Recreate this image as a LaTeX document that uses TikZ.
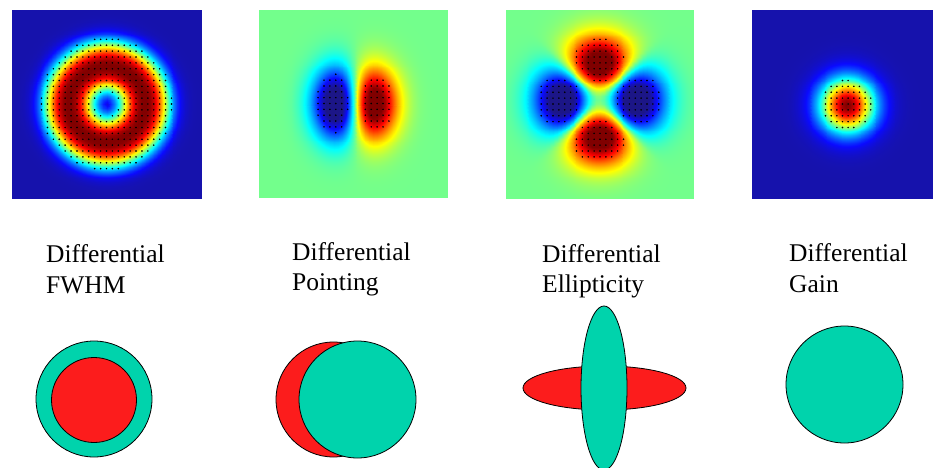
\documentclass[tikz,border=0pt]{standalone}
\usepackage{fontspec}
\setmainfont{Liberation Serif}
\usepackage{pgfplots}
\pgfplotsset{compat=1.18}
\definecolor{beamteal}{RGB}{0,211,172}
\definecolor{beamred}{RGB}{252,28,28}
\pgfplotsset{
  colormap={beamjet}{rgb255(0pt)=(28,22,135); rgb255(1pt)=(10,10,255);
    rgb255(3pt)=(0,255,255); rgb255(5pt)=(255,255,0); rgb255(7pt)=(255,0,0);
    rgb255(8pt)=(128,0,0)},
}
\tikzset{
  shapeline/.style={draw=black, line width=0.8pt},
  lbl/.style={anchor=base west, inner sep=0pt, font=\fontsize{25.5}{31}\selectfont},
}
\pgfplotsset{
  beammap/.style={hide axis, view={0}{90}, scale only axis, enlargelimits=false,
    colormap name=beamjet, anchor=south west},
  beamsurf/.style={surf, shader=interp, samples=49},
  beamdots/.style={only marks, mark=*, mark size=0.55pt, black, samples=33},
}
\begin{document}
\begin{tikzpicture}
\useasboundingbox (0pt,0pt) rectangle (935pt,-468pt);

% --- Differential FWHM map
\begin{axis}[beammap, at={(12pt,-198pt)}, width=189pt, height=188pt,
  xmin=-94.5, xmax=94.5, ymin=-94, ymax=94, point meta min=-0.04, point meta max=1]
\addplot3[beamsurf, domain=-94.5:94.5, y domain=-94:94]
  {exp(-(abs(sqrt(x^2+y^2)-38)/25)^2.5)};
\addplot3[beamdots, domain=-94.5:94.5, y domain=-94:94, restrict z to domain=12:66]
  {sqrt(x^2+y^2)};
\end{axis}

% --- Differential Pointing map
\begin{axis}[beammap, at={(259pt,-197pt)}, width=189pt, height=187pt,
  xmin=-94.5, xmax=94.5, ymin=-93.5, ymax=93.5, point meta min=-0.8, point meta max=0.84]
\addplot3[beamsurf, domain=-94.5:94.5, y domain=-93.5:93.5]
  {(x-1)/20*exp(0.5-(x-1)^2/800-y^2/1250)};
\addplot3[beamdots, domain=-94.5:94.5, y domain=-93.5:93.5, restrict z to domain=0.5:2]
  {abs((x-1)/20*exp(0.5-(x-1)^2/800-y^2/1250))};
\end{axis}

% --- Differential Ellipticity map
\begin{axis}[beammap, at={(506pt,-198pt)}, width=188pt, height=188pt,
  xmin=-94, xmax=94, ymin=-94, ymax=94, point meta min=-0.78, point meta max=0.82,
  declare function={ellr(\x,\y)=((\x+1)^2+(\y-4)^2)/1352;
    ellc(\x,\y)=((\y-4)^2-(\x+1)^2)/((\x+1)^2+(\y-4)^2+0.01);}]
\addplot3[beamsurf, domain=-94:94, y domain=-94:94]
  {ellr(x,y)*exp(1-ellr(x,y))*ellc(x,y)*(abs(ellc(x,y))+0.0001)^(-0.2)};
\addplot3[beamdots, domain=-94:94, y domain=-94:94, restrict z to domain=0.45:2]
  {abs(ellr(x,y)*exp(1-ellr(x,y))*ellc(x,y)*(abs(ellc(x,y))+0.0001)^(-0.2))};
\end{axis}

% --- Differential Gain map
\begin{axis}[beammap, at={(752pt,-198pt)}, width=181pt, height=188pt,
  xmin=-90.5, xmax=90.5, ymin=-94, ymax=94, point meta min=-0.04, point meta max=1]
\addplot3[beamsurf, domain=-90.5:90.5, y domain=-94:94]
  {exp(-((x-4.5)^2+(y+1)^2)/722)};
\addplot3[beamdots, domain=-90.5:90.5, y domain=-94:94, restrict z to domain=0:25]
  {sqrt((x-4.5)^2+(y+1)^2)};
\end{axis}

% --- labels
\node[lbl] (l1a) at (46pt,-262pt) {Differential};
\node[lbl] (l1b) at (46pt,-293pt) {FWHM};
\node[lbl] (l2a) at (292pt,-260pt) {Differential};
\node[lbl] (l2b) at (292pt,-290pt) {Pointing};
\node[lbl] (l3a) at (542pt,-262pt) {Differential};
\node[lbl] (l3b) at (542pt,-292pt) {Ellipticity};
\node[lbl] (l4a) at (789pt,-261pt) {Differential};
\node[lbl] (l4b) at (789pt,-292pt) {Gain};

% --- beam shapes
\begin{scope}[x=1pt, y=-1pt]
\draw[shapeline, fill=beamteal] (94,399) circle[radius=58];
\draw[shapeline, fill=beamred] (94,400) circle[radius=42.5];
\draw[shapeline, fill=beamred] (333.5,399.5) circle[radius=57.5];
\draw[shapeline, fill=beamteal] (357.5,399.5) circle[radius=58.5];
\draw[shapeline, fill=beamred] (604.5,388) ellipse[x radius=81.5, y radius=22];
\draw[shapeline, fill=beamteal] (604,388) ellipse[x radius=23, y radius=82];
\draw[shapeline, fill=beamteal] (844.5,384.5) circle[radius=58.5];
\end{scope}
\end{tikzpicture}
\end{document}
